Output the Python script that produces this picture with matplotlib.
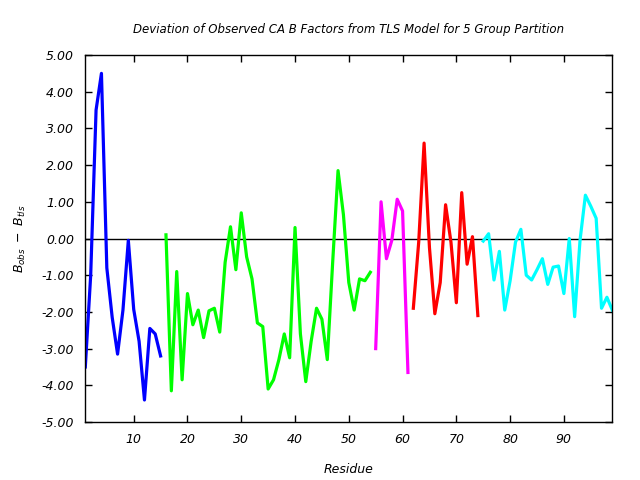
import matplotlib
matplotlib.use("Agg")
import matplotlib.pyplot as plt
from matplotlib.ticker import FormatStrFormatter, MultipleLocator

plt.rcParams['mathtext.fontset'] = 'dejavusans'
plt.rcParams['font.family'] = ['DejaVu Sans']

title = "Deviation of Observed CA B Factors from TLS Model for 5 Group Partition"

res_blue = list(range(1, 16))
val_blue = [-3.5, -1.0, 3.5, 4.5, -0.8, -2.15, -3.15, -1.95, -0.05, -1.93, -2.8,
            -4.4, -2.45, -2.6, -3.2]

res_green = list(range(16, 55))
val_green = [0.1, -4.15, -0.9, -3.85, -1.5, -2.35, -1.95, -2.7, -1.97, -1.9,
             -2.55, -0.65, 0.32, -0.85, 0.7, -0.5, -1.1, -2.3, -2.4, -4.1,
             -3.85, -3.3, -2.6, -3.25, 0.3, -2.6, -3.9, -2.8, -1.9, -2.2,
             -3.3, -0.65, 1.85, 0.65, -1.2, -1.95, -1.1, -1.15, -0.92]

res_magenta = list(range(55, 62))
val_magenta = [-3.0, 1.0, -0.55, -0.05, 1.07, 0.75, -3.65]

res_red = list(range(62, 75))
val_red = [-1.9, -0.1, 2.6, -0.25, -2.05, -1.2, 0.92, -0.1, -1.75, 1.25, -0.7,
           0.05, -2.1]

res_cyan = list(range(75, 100))
val_cyan = [-0.07, 0.13, -1.13, -0.35, -1.95, -1.15, -0.1, 0.25, -1.0, -1.13,
            -0.85, -0.55, -1.25, -0.78, -0.75, -1.5, 0.0, -2.13, -0.05, 1.18,
            0.88, 0.55, -1.9, -1.6, -1.95]

groups = [
    (res_blue, val_blue, "#0000ff"),
    (res_green, val_green, "#00ff00"),
    (res_magenta, val_magenta, "#ff00ff"),
    (res_red, val_red, "#ff0000"),
    (res_cyan, val_cyan, "#00ffff"),
]

fig = plt.figure(figsize=(6.4, 4.8), dpi=100)
ax = fig.add_axes([0.1333, 0.1208, 0.8234, 0.7646])

ax.axhline(0, color="black", linewidth=1.0, zorder=1)
for r, v, c in groups:
    ax.plot(r, v, color=c, linewidth=2.3, zorder=2)

ax.set_xlim(1, 99)
ax.set_ylim(-5, 5)
ax.yaxis.set_major_locator(MultipleLocator(1))
ax.yaxis.set_major_formatter(FormatStrFormatter("%.2f"))
ax.xaxis.set_major_locator(MultipleLocator(10))
ax.tick_params(direction="in", top=True, right=True, length=5, width=1,
               labelsize=9, pad=8)
for lab in ax.get_xticklabels() + ax.get_yticklabels():
    lab.set_fontstyle("italic")
for s in ax.spines.values():
    s.set_linewidth(1.0)

ax.set_title(title, fontsize=8.5, style="italic", pad=16)
ax.set_xlabel("Residue", fontsize=9, style="italic", labelpad=12)
ax.set_ylabel(r"$B_{obs}\ -\ B_{tls}$", fontsize=9, labelpad=10)

fig.savefig("out.png", dpi=100)
